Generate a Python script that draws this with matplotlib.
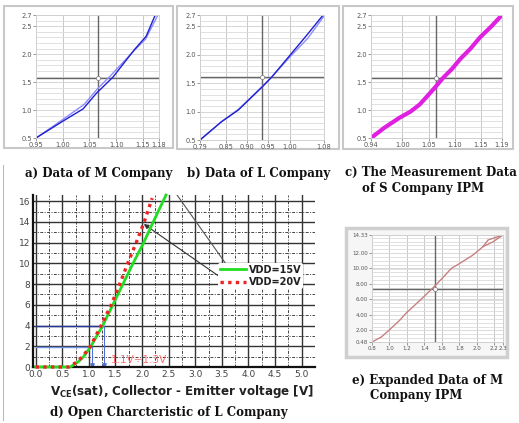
import numpy as np
import matplotlib.pyplot as plt
from matplotlib.patches import Rectangle

# ---- data ----
# a) M company (two overlapping traces)
a_x1 = [0.95, 1.00, 1.038, 1.063, 1.094, 1.134, 1.156, 1.173]
a_y1 = [0.50, 0.80, 1.02, 1.30, 1.59, 2.08, 2.32, 2.70]
a_x2 = [0.95, 1.00, 1.04, 1.065, 1.09, 1.13, 1.155, 1.178]
a_y2 = [0.50, 0.83, 1.10, 1.38, 1.62, 2.03, 2.27, 2.70]
a_cross = (1.065, 1.58)

# b) L company
b_x1 = [0.79, 0.84, 0.88, 0.935, 0.958, 0.998, 1.037, 1.078]
b_y1 = [0.50, 0.82, 1.03, 1.43, 1.61, 1.97, 2.32, 2.70]
b_x2 = [0.79, 0.84, 0.88, 0.935, 0.958, 1.000, 1.042, 1.080]
b_y2 = [0.50, 0.82, 1.04, 1.44, 1.61, 1.96, 2.29, 2.68]
b_cross = (0.935, 1.60)

# c) S company IPM
c_x = [0.94, 0.965, 0.994, 1.015, 1.033, 1.059, 1.078, 1.095, 1.11, 1.13, 1.148, 1.17, 1.188]
c_y = [0.50, 0.68, 0.86, 0.97, 1.10, 1.37, 1.58, 1.74, 1.91, 2.10, 2.30, 2.50, 2.68]
c_cross = (1.065, 1.58)

# d) open characteristic of L company
d15_x = [0.0, 0.65, 0.80, 0.90, 1.04, 1.26, 1.45, 1.64, 1.83, 2.03, 2.21, 2.45]
d15_y = [0.0, 0.0, 0.5, 1.0, 2.0, 4.0, 6.0, 8.0, 10.0, 12.0, 14.0, 16.6]
d20_x = [0.0, 0.62, 0.78, 0.88, 1.03, 1.23, 1.42, 1.58, 1.73, 1.89, 2.04, 2.19]
d20_y = [0.0, 0.0, 0.5, 1.0, 2.0, 4.0, 6.0, 8.0, 10.0, 12.0, 14.0, 16.3]
d_labels = ['VDD=15V', 'VDD=20V']

# e) expanded data of M company IPM
e_x1 = [0.80, 0.907, 1.002, 1.117, 1.193, 1.289, 1.384, 1.518, 1.613, 1.708, 1.804, 1.957, 2.071, 2.128, 2.185, 2.30]
e_y1 = [0.48, 1.13, 2.08, 3.29, 4.25, 5.24, 6.24, 7.71, 8.83, 10.0, 10.65, 11.74, 12.82, 13.68, 13.9, 14.33]
e_x2 = [2.071, 2.185, 2.30]
e_y2 = [12.82, 13.45, 14.33]
e_cross = (1.52, 7.4)

W, H = 519, 423
fig = plt.figure(figsize=(W / 100, H / 100), dpi=100)


def box(l, t, r, b):
    return [l / W, 1 - b / H, (r - l) / W, (b - t) / H]


def frame(l, t, r, b, ec, lw, fc=None):
    fig.add_artist(Rectangle((l / W, 1 - b / H), (r - l) / W, (b - t) / H,
                             transform=fig.transFigure, fill=fc is not None,
                             fc=fc if fc else 'none', ec=ec, lw=lw, zorder=-1))


def small_panel(ax, xlim, xt, ylim, yt, ystep, fmt_x, fmt_y, cross):
    ax.set_xlim(xlim)
    ax.set_ylim(ylim)
    ax.set_xticks(xt)
    ax.set_xticklabels([fmt_x.format(v) for v in xt])
    ax.set_yticks(yt)
    ax.set_yticklabels([fmt_y.format(v) for v in yt])
    ax.set_yticks(np.arange(ylim[0], ylim[1], ystep), minor=True)
    ax.tick_params(which='major', length=2, width=0.6, color='#888888', labelsize=4.8,
                   labelcolor='#555555', pad=1)
    ax.tick_params(which='minor', length=0)
    ax.grid(True, which='major', axis='x', color='#c8c8c8', lw=0.7)
    ax.grid(True, which='minor', axis='y', color='#dcdcdc', lw=0.6)
    ax.grid(True, which='major', axis='y', color='#d0d0d0', lw=0.6)
    for s in ax.spines.values():
        s.set_color('#d0d0d0')
        s.set_linewidth(0.7)
    ax.axvline(cross[0], color='#666666', lw=1.0)
    ax.axhline(cross[1], color='#666666', lw=1.0)
    ax.plot(cross[0], cross[1], 'o', ms=3, mfc='white', mec='#888888', mew=0.6)


yt = [0.5, 1.0, 1.5, 2.0, 2.5, 2.7]

# a)
frame(4, 6, 173, 148, '#c8c8c8', 1.5)
ax = fig.add_axes(box(36, 15, 159, 138))
small_panel(ax, (0.95, 1.18), [0.95, 1.00, 1.05, 1.10, 1.15, 1.18], (0.5, 2.7), yt, 0.1,
            '{:.2f}', '{:.1f}', a_cross)
ax.plot(a_x2, a_y2, color='#8c8cff', lw=1.0)
ax.plot(a_x1, a_y1, color='#2020d0', lw=1.0)

# b)
frame(177, 6, 339, 149, '#c8c8c8', 1.5)
ax = fig.add_axes(box(200, 15, 324, 140))
small_panel(ax, (0.79, 1.08), [0.79, 0.85, 0.90, 0.95, 1.00, 1.08], (0.5, 2.7), yt, 0.1,
            '{:.2f}', '{:.1f}', b_cross)
ax.plot(b_x2, b_y2, color='#8c8cff', lw=1.0)
ax.plot(b_x1, b_y1, color='#2020d0', lw=1.0)

# c)
frame(343, 6, 513, 149, '#c8c8c8', 1.5)
ax = fig.add_axes(box(371, 15, 502, 138))
small_panel(ax, (0.94, 1.19), [0.94, 1.00, 1.05, 1.10, 1.15, 1.19], (0.5, 2.7), yt, 0.1,
            '{:.2f}', '{:.1f}', c_cross)
ax.plot(c_x, c_y, color='#e020e0', lw=3.0, solid_capstyle='round')

# e)
frame(346, 228, 507, 357, '#cfcfcf', 2.5, fc='#f6f6f6')
ax = fig.add_axes(box(372, 235, 503, 342))
small_panel(ax, (0.8, 2.3), [0.8, 1.0, 1.2, 1.4, 1.6, 1.8, 2.0, 2.2, 2.3], (0.48, 14.33),
            [0.48, 2.0, 4.0, 6.0, 8.0, 10.0, 12.0, 14.33], 0.5, '{:.1f}', '{:.2f}', e_cross)
ax.tick_params(labelsize=4.0)
ax.plot(e_x2, e_y2, color='#c88080', lw=1.0)
ax.plot(e_x1, e_y1, color='#c88080', lw=1.0)

# d)
ax = fig.add_axes(box(33, 195, 315, 367))
ax.set_xlim(-0.05, 5.25)
ax.set_ylim(0, 16.6)
ax.set_xticks(np.arange(0, 5.01, 0.5))
ax.set_xticklabels(['{:.1f}'.format(v) for v in np.arange(0, 5.01, 0.5)])
ax.set_xticks(np.arange(0.25, 5.25, 0.5), minor=True)
ax.set_yticks(np.arange(0, 16.1, 2))
ax.set_yticks(np.arange(1, 16.1, 2), minor=True)
ax.grid(True, which='major', color='#333333', lw=1.0)
ax.grid(True, which='minor', color='#444444', lw=0.7, ls=(0, (3, 1.5, 1, 1.5)))
ax.tick_params(which='both', length=0, labelsize=6.5, labelcolor='#444444', pad=2)
for s in ['top', 'right']:
    ax.spines[s].set_visible(False)
for s in ['left', 'bottom']:
    ax.spines[s].set_linewidth(1.6)
    ax.spines[s].set_color('#111111')

ax.plot([0, 1.28], [4, 4], color='#23399a', lw=1.0)
ax.plot([1.28, 1.28], [0.3, 4], color='#5070d8', lw=0.8)
ax.plot([0, 1.06], [1.9, 1.9], color='#7090e8', lw=1.0)
ax.plot([1.06, 1.06], [0.3, 1.9], color='#5070d8', lw=0.8)
ax.plot(1.28, 0.15, marker='v', ms=2.5, color='#5070d8')
ax.plot(1.06, 0.15, marker='v', ms=2.5, color='#5070d8')

l15, = ax.plot(d15_x, d15_y, color='#22dd22', lw=2.0, label=d_labels[0],
               zorder=4, clip_on=False)
l20, = ax.plot(d20_x, d20_y, color='#ee2222', lw=2.4, ls=(0, (1, 1.3)), label=d_labels[1],
               zorder=5, clip_on=False)

ax.text(1.42, 0.7, '1.1V\u00f71.3V', color='#ff5555', alpha=0.85, fontsize=7.5,
        va='center', ha='left')

ax.plot([2.63, 3.63], [16.8, 9.56], color='#555555', lw=0.8)
ax.annotate('', xy=(1.99, 13.95), xytext=(3.63, 8.1),
            arrowprops=dict(arrowstyle='-|>', color='#333333', lw=0.8, mutation_scale=7))

leg = ax.legend(handles=[l15, l20], loc='center left', bbox_to_anchor=(0.64, 0.53),
                frameon=True, facecolor='white', edgecolor='none', framealpha=1,
                handlelength=2.6, handletextpad=0.3, labelspacing=0.25, borderpad=0.2,
                prop={'weight': 'bold', 'size': 7})
for t in leg.get_texts():
    t.set_color('#222222')

ax.text(0.06, -0.145, r'$\mathbf{V_{CE}}$(sat), Collector - Emitter voltage [V]',
        transform=ax.transAxes, fontsize=8.6, fontweight='bold', color='#222222',
        va='center', ha='left')

# captions
cap = dict(family='DejaVu Serif', fontweight='bold', fontsize=8.5, color='#111111',
           va='center', ha='left')
fig.text(25 / W, 1 - 174 / H, 'a) Data of M Company', **cap)
fig.text(187 / W, 1 - 174 / H, 'b) Data of L Company', **cap)
fig.text(345 / W, 1 - 172 / H, 'c) The Measurement Data', **cap)
fig.text(362 / W, 1 - 188 / H, 'of S Company IPM', **cap)
fig.text(50 / W, 1 - 412 / H, 'd) Open Charcteristic of L Company', **cap)
fig.text(352 / W, 1 - 380 / H, 'e) Expanded Data of M', **cap)
fig.text(370 / W, 1 - 395 / H, 'Company IPM', **cap)

# faint border of the lower-left picture
fig.add_artist(plt.Line2D([3 / W, 3 / W], [1 - 165 / H, 1 - 420 / H],
                          transform=fig.transFigure, color='#bbbbbb', lw=0.8))

fig.savefig('out.png', dpi=100)
